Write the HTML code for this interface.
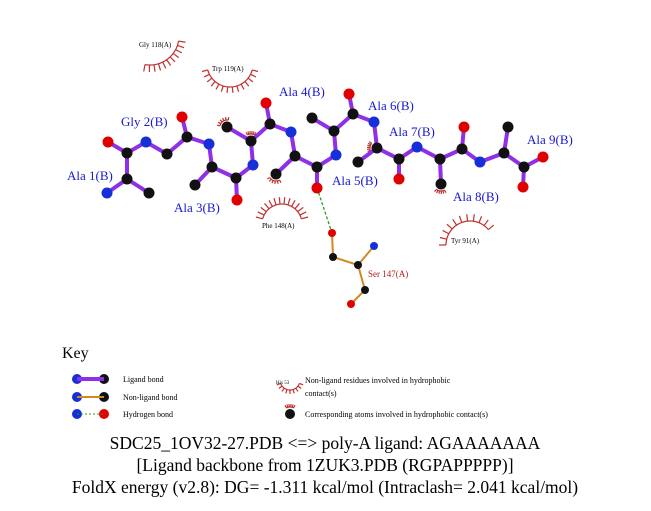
<!DOCTYPE html>
<html><head><meta charset="utf-8"><style>
body{margin:0;background:#fff;}
svg{display:block;}
text{font-family:"Liberation Serif","Times New Roman",serif;}
</style></head><body>
<svg id="s" width="651" height="511" viewBox="0 0 651 511" font-family="Liberation Serif, serif">
<g id="arcs" stroke="#c03030" stroke-width="1.2" fill="none"></g>
<g stroke="#8f2fe6" stroke-width="4" stroke-linecap="round">
<polyline fill="none" points="108,142 127,153 146,142 167,154 187,137 209,144 212,167 236,178 253,165 251,141 270,124 291,132 295,156 317,167 336,155 334,131 353,114 374,122 377,148 399,159 417,147 440,159 462,149 480,162 504,153 524,167 543,157"/>
<line x1="127" y1="153" x2="127" y2="179"/><line x1="127" y1="179" x2="107" y2="193"/><line x1="127" y1="179" x2="149" y2="193"/>
<line x1="187" y1="137" x2="182" y2="117"/>
<line x1="212" y1="167" x2="195" y2="185"/><line x1="236" y1="178" x2="237" y2="200"/>
<line x1="251" y1="141" x2="227" y2="127"/><line x1="270" y1="124" x2="266" y2="103"/>
<line x1="295" y1="156" x2="276" y2="174"/><line x1="317" y1="167" x2="317" y2="188"/>
<line x1="334" y1="131" x2="312" y2="118"/><line x1="353" y1="114" x2="349" y2="94"/>
<line x1="377" y1="148" x2="358" y2="162"/><line x1="399" y1="159" x2="399" y2="179"/>
<line x1="440" y1="159" x2="441" y2="184"/><line x1="462" y1="149" x2="464" y2="127"/>
<line x1="504" y1="153" x2="508" y2="127"/><line x1="524" y1="167" x2="523" y2="187"/>
</g>
<line x1="317" y1="188" x2="332" y2="233" stroke="#2a9a2a" stroke-width="1.3" stroke-dasharray="3,2"/>
<g stroke="#d08a20" stroke-width="2" fill="none">
<polyline points="332,233 333,257 358,265 365,290 351,304"/><line x1="358" y1="265" x2="374" y2="246"/>
</g>
<g id="atoms"></g>
<g fill="#1a1acc" font-size="13">
<text x="67" y="180">Ala 1(B)</text><text x="121" y="126">Gly 2(B)</text><text x="174" y="212">Ala 3(B)</text>
<text x="279" y="96">Ala 4(B)</text><text x="332" y="185">Ala 5(B)</text><text x="368" y="110">Ala 6(B)</text>
<text x="389" y="136">Ala 7(B)</text><text x="453" y="201">Ala 8(B)</text><text x="527" y="144">Ala 9(B)</text>
</g>
<g font-size="7" fill="#000">
<text x="139" y="47">Gly 118(A)</text><text x="212" y="71">Trp 119(A)</text>
<text x="262" y="228">Phe 148(A)</text><text x="451" y="243">Tyr 91(A)</text>
</g>
<text x="368" y="277" font-size="9" fill="#b02020">Ser 147(A)</text>
<text x="62" y="358" font-size="16">Key</text>
<line x1="77" y1="379" x2="104" y2="379" stroke="#8f2fe6" stroke-width="4"/>
<line x1="77" y1="397" x2="104" y2="397" stroke="#d08a20" stroke-width="2"/>
<line x1="77" y1="414" x2="104" y2="414" stroke="#2a9a2a" stroke-width="1" stroke-dasharray="2,2"/>
<g font-size="8">
<text x="123" y="382">Ligand bond</text><text x="123" y="400">Non-ligand bond</text><text x="123" y="417">Hydrogen bond</text>
<text x="305" y="383">Non-ligand residues involved in hydrophobic</text><text x="305" y="396">contact(s)</text>
<text x="305" y="417">Corresponding atoms involved in hydrophobic contact(s)</text>
<text x="276" y="384" font-size="5">His 53</text>
</g>
<g font-size="17.5" text-anchor="middle">
<text x="325" y="449">SDC25_1OV32-27.PDB &lt;=&gt; poly-A ligand: AGAAAAAAA</text>
<text x="325" y="471">[Ligand backbone from 1ZUK3.PDB (RGPAPPPPP)]</text>
<text x="325" y="493">FoldX energy (v2.8): DG= -1.311 kcal/mol (Intraclash= 2.041 kcal/mol)</text>
</g>
<script>
var NS="http://www.w3.org/2000/svg";
function el(p,t,a){var e=document.createElementNS(NS,t);for(var k in a)e.setAttribute(k,a[k]);p.appendChild(e);return e;}
var A=document.getElementById('atoms'),R=document.getElementById('arcs');
var K='#111',B='#1530d8',O='#e00000';
var atoms=[[108,142,O],[127,153,K],[127,179,K],[107,193,B],[149,193,K],[146,142,B],[167,154,K],[187,137,K],[182,117,O],
[209,144,B],[212,167,K],[195,185,K],[236,178,K],[237,200,O],[253,165,B],[251,141,K],[227,127,K],[270,124,K],[266,103,O],
[291,132,B],[295,156,K],[276,174,K],[317,167,K],[317,188,O],[336,155,B],[334,131,K],[312,118,K],[353,114,K],[349,94,O],
[374,122,B],[377,148,K],[358,162,K],[399,159,K],[399,179,O],[417,147,B],[440,159,K],[441,184,K],[462,149,K],[464,127,O],
[480,162,B],[504,153,K],[508,127,K],[524,167,K],[543,157,O],[523,187,O]];
atoms.forEach(function(a){el(A,'circle',{cx:a[0],cy:a[1],r:5.5,fill:a[2]});});
[[332,233,O],[333,257,K],[358,265,K],[374,246,B],[365,290,K],[351,304,O]].forEach(function(a){el(A,'circle',{cx:a[0],cy:a[1],r:4,fill:a[2]});});
[[77,379,B],[104,379,K],[77,397,B],[104,397,K],[77,414,B],[104,414,O],[290,414,K]].forEach(function(a){el(A,'circle',{cx:a[0],cy:a[1],r:5,fill:a[2]});});
function arc(cx,cy,r,a0,a1,n,len){var d='';for(var i=0;i<=40;i++){var t=(a0+(a1-a0)*i/40)*Math.PI/180;d+=(i?'L':'M')+(cx+r*Math.cos(t))+','+(cy+r*Math.sin(t));}
el(R,'path',{d:d});for(var j=0;j<=n;j++){var t=(a0+(a1-a0)*j/n)*Math.PI/180,c=Math.cos(t),s=Math.sin(t);
el(R,'line',{x1:cx+r*c,y1:cy+r*s,x2:cx+(r+len)*c,y2:cy+(r+len)*s});}}
arc(150,36,29,10,100,10,7);
arc(230,64,23,15,165,13,6);
arc(282,224,20,195,345,13,7);
arc(470,245,24,180,320,10,7);
arc(290,380,10,20,160,8,4);
[[227,127,190,280],[251,141,240,300],[276,174,60,150],[377,148,160,220],[441,184,60,130],[290,414,240,300]].forEach(function(h){arc(h[0],h[1],7,h[2],h[3],5,3);});
</script>
</svg>
</body></html>
